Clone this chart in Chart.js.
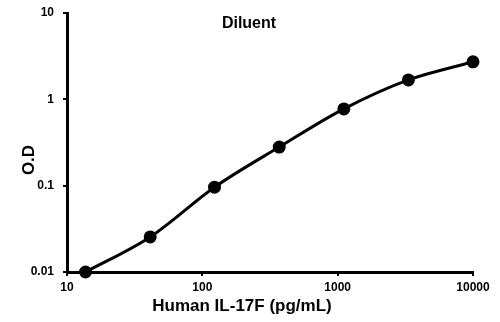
<!DOCTYPE html>
<html>
<head>
<meta charset="utf-8">
<script src="https://cdn.jsdelivr.net/npm/chart.js@4"></script>
<style>
  html, body { margin: 0; padding: 0; background: #fff; }
  #wrap { width: 500px; height: 322px; }
</style>
</head>
<body>
<div id="wrap"><canvas id="curve"></canvas></div>
<script>
// standard curve, 3-fold dilution series
const concentrations = [13.7, 41.2, 123, 370, 1111, 3333, 10000];
const odValues = [0.01, 0.0255, 0.096, 0.28, 0.775, 1.68, 2.72];
const xTicks = [10, 100, 1000, 10000];
const yTicks = [0.01, 0.1, 1, 10];

const tickFont = {family: 'Liberation Sans, Arial, sans-serif', size: 12, weight: 'bold'};

// panel label and axis titles, placed like the spreadsheet layout
const chartText = {
    id: 'chartText',
    afterDraw(chart) {
        const c = chart.ctx;
        c.save();
        c.fillStyle = '#000';
        c.textAlign = 'center';
        c.textBaseline = 'middle';
        c.font = 'bold 16px "Liberation Sans", Arial, sans-serif';
        c.fillText('Diluent', 249, 24);
        c.font = 'bold 17px "Liberation Sans", Arial, sans-serif';
        c.fillText('Human IL-17F (pg/mL)', 242, 306);
        c.translate(29, 160);
        c.rotate(-Math.PI / 2);
        c.fillText('O.D', 0, 0);
        c.restore();
    }
};

const ctx = document.getElementById('curve').getContext('2d');
new Chart(ctx, {
    type: 'line',
    data: {
        datasets: [{
            data: concentrations.map((c, i) => ({x: c, y: odValues[i]})),
            borderColor: '#000',
            backgroundColor: '#000',
            borderWidth: 3,
            pointRadius: 5,
            pointHoverRadius: 5,
            cubicInterpolationMode: 'monotone',
            fill: false,
            clip: false
        }]
    },
    options: {
        responsive: true,
        maintainAspectRatio: false,
        animation: false,
        layout: {padding: {top: 13, right: 27, left: 0, bottom: 0}},
        plugins: {legend: {display: false}, tooltip: {enabled: false}},
        scales: {
            x: {
                type: 'logarithmic',
                min: 10,
                max: 10000,
                afterBuildTicks: (scale) => { scale.ticks = xTicks.map(v => ({value: v})); },
                afterFit: (scale) => { scale.height = 50; },
                ticks: {
                    color: '#000',
                    font: tickFont,
                    padding: 4,
                    maxRotation: 0,
                    callback: (v) => String(v)
                },
                grid: {drawOnChartArea: false, color: '#000', lineWidth: 2, tickLength: 4},
                border: {color: '#000', width: 3}
            },
            y: {
                type: 'logarithmic',
                min: 0.01,
                max: 10,
                afterBuildTicks: (scale) => { scale.ticks = yTicks.map(v => ({value: v})); },
                afterFit: (scale) => {
                    scale.width = 67;
                    scale.paddingTop = 0;
                    scale.paddingBottom = 0;
                },
                ticks: {
                    color: '#000',
                    font: tickFont,
                    padding: 9,
                    callback: (v) => String(v)
                },
                grid: {drawOnChartArea: false, color: '#000', lineWidth: 2, tickLength: 4},
                border: {color: '#000', width: 3}
            }
        }
    },
    plugins: [chartText]
});
</script>
</body>
</html>
